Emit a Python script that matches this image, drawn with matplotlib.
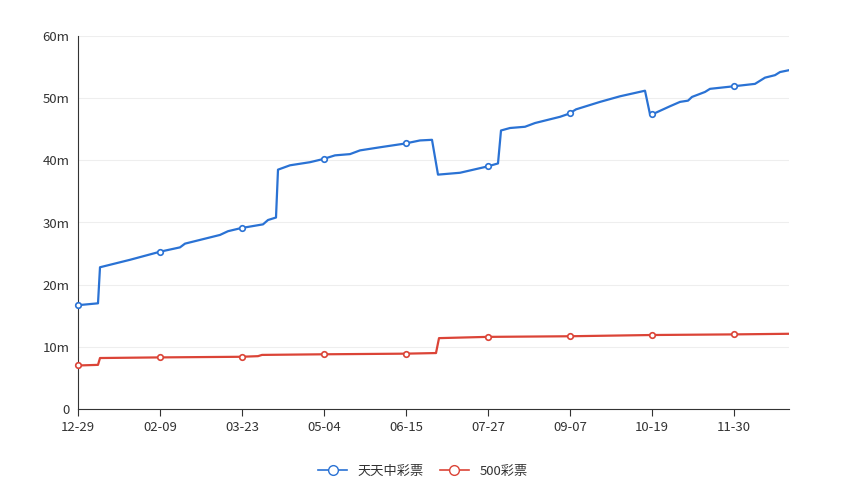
import numpy as np
import matplotlib.pyplot as plt

plt.rcParams['font.family'] = ['Noto Sans CJK SC', 'DejaVu Sans']

tick_labels = ["12-29", "02-09", "03-23", "05-04", "06-15", "07-27", "09-07", "10-19", "11-30"]

# pixel x positions, converted to day index below
blue_x = [78, 98, 100, 130, 160, 180, 185, 220, 228, 241, 263, 268, 276, 278, 290, 310, 323,
          335, 350, 360, 380, 405, 420, 432, 438, 460, 487, 498, 501, 510, 525, 535, 560,
          569, 576, 600, 620, 645, 650, 655, 670, 680, 688, 692, 705, 710, 733, 755, 765,
          775, 780, 789]
blue_v = [16.7, 17.0, 22.8, 24.0, 25.3, 26.0, 26.6, 28.0, 28.6, 29.1, 29.7, 30.4, 30.8, 38.5,
          39.2, 39.7, 40.2, 40.8, 41.0, 41.6, 42.1, 42.7, 43.2, 43.3, 37.7, 38.0, 39.0, 39.5,
          44.8, 45.2, 45.4, 46.0, 47.0, 47.5, 48.2, 49.4, 50.3, 51.2, 47.4, 47.6, 48.7, 49.4,
          49.6, 50.2, 51.0, 51.5, 51.9, 52.3, 53.3, 53.7, 54.2, 54.5]
red_x = [78, 98, 100, 160, 241, 258, 262, 323, 405, 436, 439, 487, 569, 651, 733, 789]
red_v = [7.0, 7.1, 8.2, 8.3, 8.4, 8.5, 8.7, 8.8, 8.9, 9.0, 11.4, 11.6, 11.7, 11.9, 12.0, 12.1]

px_per_day = 82 / 42
blue_d = [(x - 78) / px_per_day for x in blue_x]
red_d = [(x - 78) / px_per_day for x in red_x]
tick_days = [42 * i for i in range(len(tick_labels))]

blue_c = "#2a72d4"
red_c = "#db4437"

fig = plt.figure(figsize=(8.46, 4.94), dpi=100)
ax = fig.add_axes([78 / 846, 85 / 494, 711 / 846, 373 / 494])

ax.plot(blue_d, blue_v, color=blue_c, lw=1.6, label="天天中彩票", zorder=3)
ax.plot(red_d, red_v, color=red_c, lw=1.6, label="500彩票", zorder=3)
ax.plot(tick_days, np.interp(tick_days, blue_d, blue_v), "o", ms=4, mfc="white",
        mec=blue_c, mew=1.2, zorder=4, clip_on=False)
ax.plot(tick_days, np.interp(tick_days, red_d, red_v), "o", ms=4, mfc="white",
        mec=red_c, mew=1.2, zorder=4, clip_on=False)

ax.set_xlim(0, 711 / px_per_day)
ax.set_ylim(0, 60)
ax.set_xticks(tick_days)
ax.set_xticklabels(tick_labels)
ax.set_yticks(range(0, 61, 10))
ax.set_yticklabels(["0"] + [f"{v}m" for v in range(10, 61, 10)])
ax.grid(axis="y", color="#eeeeee", lw=0.8)
ax.set_axisbelow(True)
for s in ["top", "right"]:
    ax.spines[s].set_visible(False)
for s in ["left", "bottom"]:
    ax.spines[s].set_color("#333333")
ax.tick_params(colors="#333333", labelsize=9.5)
ax.tick_params(axis="y", length=0, pad=6)
ax.tick_params(axis="x", length=5, color="#333333")

h = [plt.Line2D([], [], color=blue_c, marker="o", mfc="white", ms=7, lw=1.2),
     plt.Line2D([], [], color=red_c, marker="o", mfc="white", ms=7, lw=1.2)]
fig.legend(h, ["天天中彩票", "500彩票"], loc="center", bbox_to_anchor=(0.5, 1 - 471 / 494),
           ncol=2, frameon=False, fontsize=9.5, handlelength=2.2, columnspacing=1.2,
           labelcolor="#333333")

fig.savefig("out.png")
